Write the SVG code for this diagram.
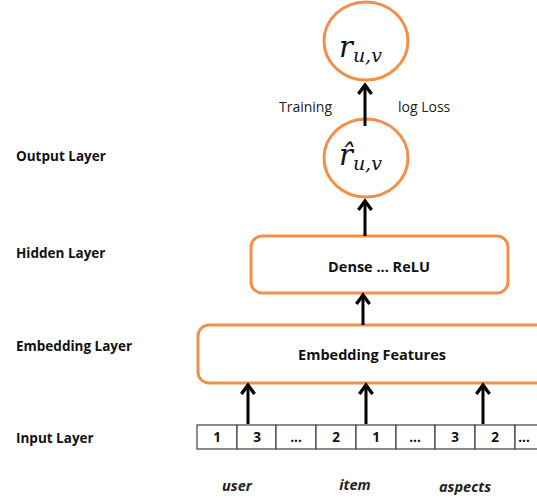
<svg xmlns="http://www.w3.org/2000/svg" width="537" height="498" viewBox="0 0 537 498">
<style>
.node{fill:#fff;stroke:#F0904A;stroke-width:3}
.cell{fill:#fff;stroke:#404040;stroke-width:1.2}
.lab{font-family:"Open Sans","Liberation Sans",sans-serif;font-weight:bold;font-size:13.5px;fill:#111}
.box{font-family:"Open Sans","Liberation Sans",sans-serif;font-weight:bold;font-size:14.5px;fill:#111;text-anchor:middle}
.txt{font-family:"Open Sans","Liberation Sans",sans-serif;font-size:14px;fill:#222}
.num{font-family:"Open Sans","Liberation Sans",sans-serif;font-weight:bold;font-size:13.5px;fill:#111;text-anchor:middle}
.ital{font-family:"Open Sans","Liberation Sans",sans-serif;font-weight:bold;font-style:italic;font-size:14.5px;fill:#222;text-anchor:middle}
.math{font-family:"DejaVu Serif","Liberation Serif",serif;font-style:italic;fill:#111}
.conn{stroke:#000;stroke-width:3;fill:none;marker-end:url(#ah)}
</style>
<defs>
<marker id="ah" viewBox="0 0 10 10" refX="8" refY="5" markerWidth="5.5" markerHeight="5.5" orient="auto" markerUnits="strokeWidth">
<path d="M2.5,1 L8,5 L2.5,9" fill="none" stroke="#000" stroke-width="2" stroke-linejoin="miter"/>
</marker>
</defs>
<rect width="537" height="498" fill="#fff"/>
<g id="layer-labels">
<text class="lab" x="16" y="161">Output Layer</text>
<text class="lab" x="16" y="258">Hidden Layer</text>
<text class="lab" x="16" y="351">Embedding Layer</text>
<text class="lab" x="16" y="443">Input Layer</text>
</g>
<g id="node-r">
<ellipse class="node" cx="366" cy="41" rx="42" ry="39"/>
<text class="math" x="339" y="57" font-size="29">r<tspan font-size="19" dy="5">u,v</tspan></text>
</g>
<g id="node-rhat">
<ellipse class="node" cx="366" cy="158" rx="42" ry="39"/>
<text class="math" x="339" y="165" font-size="29">r̂<tspan font-size="19" dy="5">u,v</tspan></text>
</g>
<g id="node-hidden">
<rect class="node" x="251" y="236" width="257" height="57" rx="11"/>
<text class="box" x="379" y="272">Dense ... ReLU</text>
</g>
<g id="node-embedding">
<rect class="node" x="198" y="325" width="350" height="58" rx="11"/>
<text class="box" x="372" y="360">Embedding Features</text>
</g>
<g id="node-input">
<rect class="cell" x="197" y="425" width="40" height="24"/>
<rect class="cell" x="237" y="425" width="39" height="24"/>
<rect class="cell" x="276" y="425" width="40" height="24"/>
<rect class="cell" x="316" y="425" width="40" height="24"/>
<rect class="cell" x="356" y="425" width="40" height="24"/>
<rect class="cell" x="396" y="425" width="39" height="24"/>
<rect class="cell" x="435" y="425" width="40" height="24"/>
<rect class="cell" x="475" y="425" width="40" height="24"/>
<rect class="cell" x="515" y="425" width="40" height="24"/>
<text class="num" x="217" y="442">1</text>
<text class="num" x="257" y="442">3</text>
<text class="num" x="296" y="442">...</text>
<text class="num" x="336" y="442">2</text>
<text class="num" x="376" y="442">1</text>
<text class="num" x="415" y="442">...</text>
<text class="num" x="455" y="442">3</text>
<text class="num" x="495" y="442">2</text>
<text class="num" x="524" y="442">...</text>
</g>
<g id="group-labels">
<text class="ital" x="237" y="491">user</text>
<text class="ital" x="355" y="490">item</text>
<text class="ital" x="465" y="492">aspects</text>
</g>
<g id="edge-labels">
<text class="txt" x="279" y="112">Training</text>
<text class="txt" x="398" y="112">log Loss</text>
</g>
<g id="connectors">
<line class="conn" x1="365" y1="126" x2="365" y2="85"/>
<line class="conn" x1="365" y1="236" x2="365" y2="201"/>
<line class="conn" x1="363" y1="325" x2="363" y2="295"/>
<line class="conn" x1="248" y1="424" x2="248" y2="385"/>
<line class="conn" x1="366" y1="424" x2="366" y2="385"/>
<line class="conn" x1="483" y1="424" x2="483" y2="385"/>
</g>
</svg>
